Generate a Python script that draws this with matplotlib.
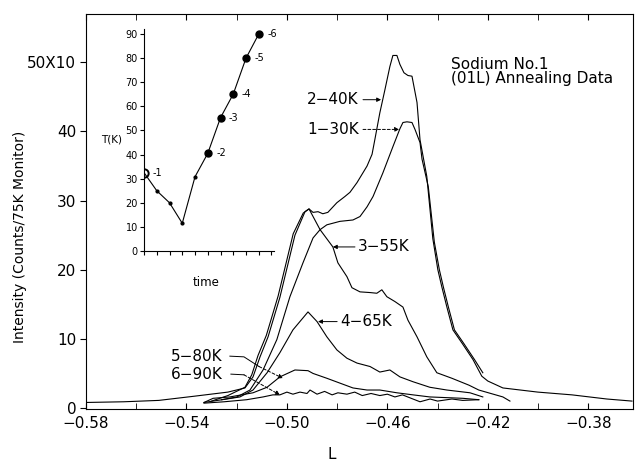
import numpy as np
import matplotlib.pyplot as plt

# scan values, L vs intensity (x10 counts / 75K monitor)
L_40 = [-0.580, -0.565, -0.551, -0.537, -0.5235, -0.5167, -0.5135, -0.5107, -0.5075, -0.5028,
        -0.4968, -0.4928, -0.4912, -0.4896, -0.4876, -0.4857, -0.4837, -0.4801, -0.4769, -0.4749,
        -0.4721, -0.4681, -0.4661, -0.4650, -0.4630, -0.4610, -0.4590, -0.4578, -0.4562, -0.4550,
        -0.4534, -0.4518, -0.4502, -0.4482, -0.4470, -0.4443, -0.4419, -0.4399, -0.4383, -0.4363,
        -0.4339, -0.4303, -0.4259, -0.4224, -0.4200, -0.4140, -0.4001, -0.3865, -0.3726, -0.3626]
I_40 = [0.8, 0.9, 1.1, 1.7, 2.3, 2.9, 4.5, 7.4, 10.3, 16.0,
        25.0, 28.4, 28.8, 28.3, 28.4, 28.1, 28.3, 29.7, 30.6, 31.2,
        32.6, 35.0, 36.7, 38.8, 42.7, 46.0, 49.4, 51.0, 51.0, 49.7,
        48.5, 48.1, 48.0, 44.2, 38.8, 33.5, 24.5, 20.0, 17.5, 14.6,
        11.3, 9.4, 7.0, 4.6, 3.9, 2.9, 2.3, 1.9, 1.3, 1.0]

L_30 = [-0.5260, -0.5199, -0.5147, -0.5095, -0.5040, -0.4988, -0.4936, -0.4896, -0.4868, -0.4841,
        -0.4789, -0.4737, -0.4709, -0.4681, -0.4657, -0.4618, -0.4578, -0.4550, -0.4538, -0.4522,
        -0.4502, -0.4490, -0.4470, -0.4462, -0.4437, -0.4413, -0.4393, -0.4377, -0.4357, -0.4333,
        -0.4297, -0.4253, -0.4220]
I_30 = [1.2, 1.6, 2.6, 5.5, 9.9, 16.1, 21.0, 24.6, 25.8, 26.5,
        27.0, 27.2, 27.7, 29.1, 30.6, 34.0, 37.8, 40.4, 41.3, 41.4,
        41.3, 40.3, 38.4, 36.0, 32.0, 24.0, 20.0, 17.5, 14.6, 11.3,
        9.4, 7.0, 5.1]

L_55 = [-0.5300, -0.5235, -0.5167, -0.5140, -0.5115, -0.5082, -0.5035, -0.4975, -0.4935, -0.4912,
        -0.4868, -0.4817, -0.4797, -0.4761, -0.4741, -0.4709, -0.4669, -0.4642, -0.4622, -0.4602,
        -0.4570, -0.4538, -0.4518, -0.4482, -0.4443, -0.4403, -0.4343, -0.4275, -0.4236, -0.4140,
        -0.4112]
I_55 = [1.0, 1.8, 3.0, 4.8, 7.6, 10.5, 16.2, 25.2, 28.2, 28.8,
        25.8, 23.3, 21.0, 19.0, 17.4, 16.8, 16.7, 16.6, 17.1, 16.1,
        15.4, 14.6, 12.7, 10.3, 7.4, 5.1, 4.3, 3.3, 2.6, 1.6,
        1.0]

L_65 = [-0.5330, -0.5294, -0.5240, -0.5187, -0.5135, -0.5079, -0.5028, -0.4976, -0.4916, -0.4880,
        -0.4841, -0.4801, -0.4761, -0.4721, -0.4669, -0.4630, -0.4590, -0.4550, -0.4498, -0.4431,
        -0.4363, -0.4271, -0.4220]
I_65 = [0.8, 1.0, 1.3, 1.6, 2.6, 5.1, 8.0, 11.3, 13.9, 12.5,
        10.3, 8.4, 7.2, 6.5, 6.0, 5.2, 5.5, 4.5, 3.8, 3.0,
        2.6, 2.2, 1.6]

L_80 = [-0.5330, -0.5294, -0.5227, -0.5135, -0.5079, -0.5028, -0.4968, -0.4916, -0.4896, -0.4841,
        -0.4789, -0.4737, -0.4681, -0.4630, -0.4562, -0.4498, -0.4431, -0.4299, -0.4236]
I_80 = [0.8, 1.4, 1.6, 2.2, 3.0, 4.5, 5.5, 5.4, 5.0, 4.3,
        3.6, 2.9, 2.6, 2.6, 2.2, 1.9, 1.6, 1.4, 1.2]

L_90 = [-0.5330, -0.5250, -0.5160, -0.5095, -0.5056, -0.5028, -0.5000, -0.4976, -0.4948, -0.4920,
        -0.4908, -0.4880, -0.4850, -0.4820, -0.4797, -0.4761, -0.4730, -0.4700, -0.4665, -0.4630,
        -0.4600, -0.4570, -0.4540, -0.4498, -0.4470, -0.4430, -0.4400, -0.4343, -0.4300, -0.4236]
I_90 = [0.7, 0.9, 1.2, 1.6, 1.9, 1.9, 2.3, 2.0, 2.3, 2.1,
        2.6, 2.0, 2.4, 1.9, 2.2, 2.0, 2.3, 1.8, 2.1, 1.8,
        2.0, 1.6, 1.9, 1.3, 0.9, 1.3, 1.0, 1.3, 1.1, 1.2]

# inset: annealing temperature history
time = [0, 1, 2, 3, 4, 5, 6, 7, 8, 9]
T = [32.5, 25, 20, 11.5, 30.8, 40.5, 55.3, 65.1, 80, 90]
scan_idx = [0, 5, 6, 7, 8, 9]
scan_no = ['-1', '-2', '-3', '-4', '-5', '-6']

xticks = [-0.58, -0.54, -0.50, -0.46, -0.42, -0.38]
xticklabels = ['\u22120.58', '\u22120.54', '\u22120.50', '\u22120.46', '\u22120.42', '\u22120.38']
yticks = [0, 10, 20, 30, 40, 50]
yticklabels = ['0', '10', '20', '30', '40', '50X10']

fig = plt.figure(figsize=(6.37, 4.66), dpi=100)
ax = fig.add_axes([0.135, 0.1215, 0.8587, 0.8485])

for xs, ys in [(L_40, I_40), (L_30, I_30), (L_55, I_55), (L_65, I_65), (L_80, I_80), (L_90, I_90)]:
    ax.plot(xs, ys, c='k', lw=0.8)

ax.set_xlim(-0.58, -0.3622)
ax.set_ylim(-0.2, 57)
ax.set_xticks(xticks)
ax.set_xticklabels(xticklabels)
ax.set_xticks(np.arange(-0.58, -0.36, 0.02), minor=True)
ax.set_yticks(yticks)
ax.set_yticklabels(yticklabels)
ax.tick_params(axis='x', which='both', direction='in', length=4, top=True, labelsize=11, pad=5)
ax.tick_params(axis='y', direction='out', length=4, labelsize=11, pad=3)
for s in ax.spines.values():
    s.set_linewidth(0.8)

ax.set_ylabel('Intensity (Counts/75K Monitor)', fontsize=10)
ax.yaxis.set_label_coords(-0.108, 0.437)
ax.set_xlabel('L', fontsize=11)
ax.xaxis.set_label_coords(0.449, -0.095)

ax.text(-0.4347, 49.7, 'Sodium No.1', fontsize=11, va='center')
ax.text(-0.4347, 47.7, '(01L) Annealing Data', fontsize=11, va='center')

arr = dict(arrowstyle='-|>', lw=0.7, color='k', mutation_scale=6, shrinkA=0, shrinkB=0)
arr_d = dict(arr, linestyle=(0, (3, 2)))

ax.text(-0.492, 44.6, '2\u221240K', fontsize=11, va='center')
ax.annotate('', xy=(-0.4625, 44.6), xytext=(-0.4697, 44.6), arrowprops=arr)
ax.text(-0.492, 40.3, '1\u221230K', fontsize=11, va='center')
ax.annotate('', xy=(-0.4553, 40.3), xytext=(-0.4697, 40.3), arrowprops=arr_d)
ax.text(-0.4717, 23.3, '3\u221255K', fontsize=11, va='center')
ax.annotate('', xy=(-0.4817, 23.3), xytext=(-0.4729, 23.3), arrowprops=arr)
ax.text(-0.4789, 12.5, '4\u221265K', fontsize=11, va='center')
ax.annotate('', xy=(-0.4876, 12.5), xytext=(-0.4800, 12.5), arrowprops=arr)

ax.text(-0.5462, 7.5, '5\u221280K', fontsize=11, va='center')
ax.plot([-0.5227, -0.5171, -0.5111], [7.5, 7.4, 6.0], c='k', lw=0.7)
ax.annotate('', xy=(-0.5016, 4.3), xytext=(-0.5111, 6.0), arrowprops=arr_d)
ax.text(-0.5462, 4.8, '6\u221290K', fontsize=11, va='center')
ax.plot([-0.5223, -0.5171], [4.9, 4.8], c='k', lw=0.7)
ax.annotate('', xy=(-0.5028, 1.9), xytext=(-0.5171, 4.8), arrowprops=arr_d)

# inset
ins = fig.add_axes([0.2261, 0.4614, 0.2041, 0.4758])
ins.patch.set_alpha(0)
ins.plot(time, T, c='k', lw=0.8)
ins.plot(time[1:5], T[1:5], 'o', c='k', ms=2)
ins.plot(time[0], T[0], 'o', mfc='none', mec='k', mew=1.4, ms=6)
ins.plot([time[i] for i in scan_idx[1:]], [T[i] for i in scan_idx[1:]], 'o', c='k', ms=5)
for i, lab in zip(scan_idx, scan_no):
    ins.annotate(lab, (time[i], T[i]), xytext=(6, 0), textcoords='offset points',
                 fontsize=7, va='center')
ins.set_xlim(0, 10.2)
ins.set_ylim(0, 92)
ins.set_xticks(range(11))
ins.set_xticklabels([])
ins.set_yticks(range(0, 91, 10))
ins.tick_params(axis='both', direction='out', length=3, labelsize=7, pad=1.5)
ins.spines['top'].set_visible(False)
ins.spines['right'].set_visible(False)
for s in ins.spines.values():
    s.set_linewidth(0.8)
fig.text(0.158, 0.70, 'T(K)', fontsize=7.5, va='center')
fig.text(0.323, 0.393, 'time', fontsize=8.5, ha='center', va='center')

plt.savefig('out.png')
